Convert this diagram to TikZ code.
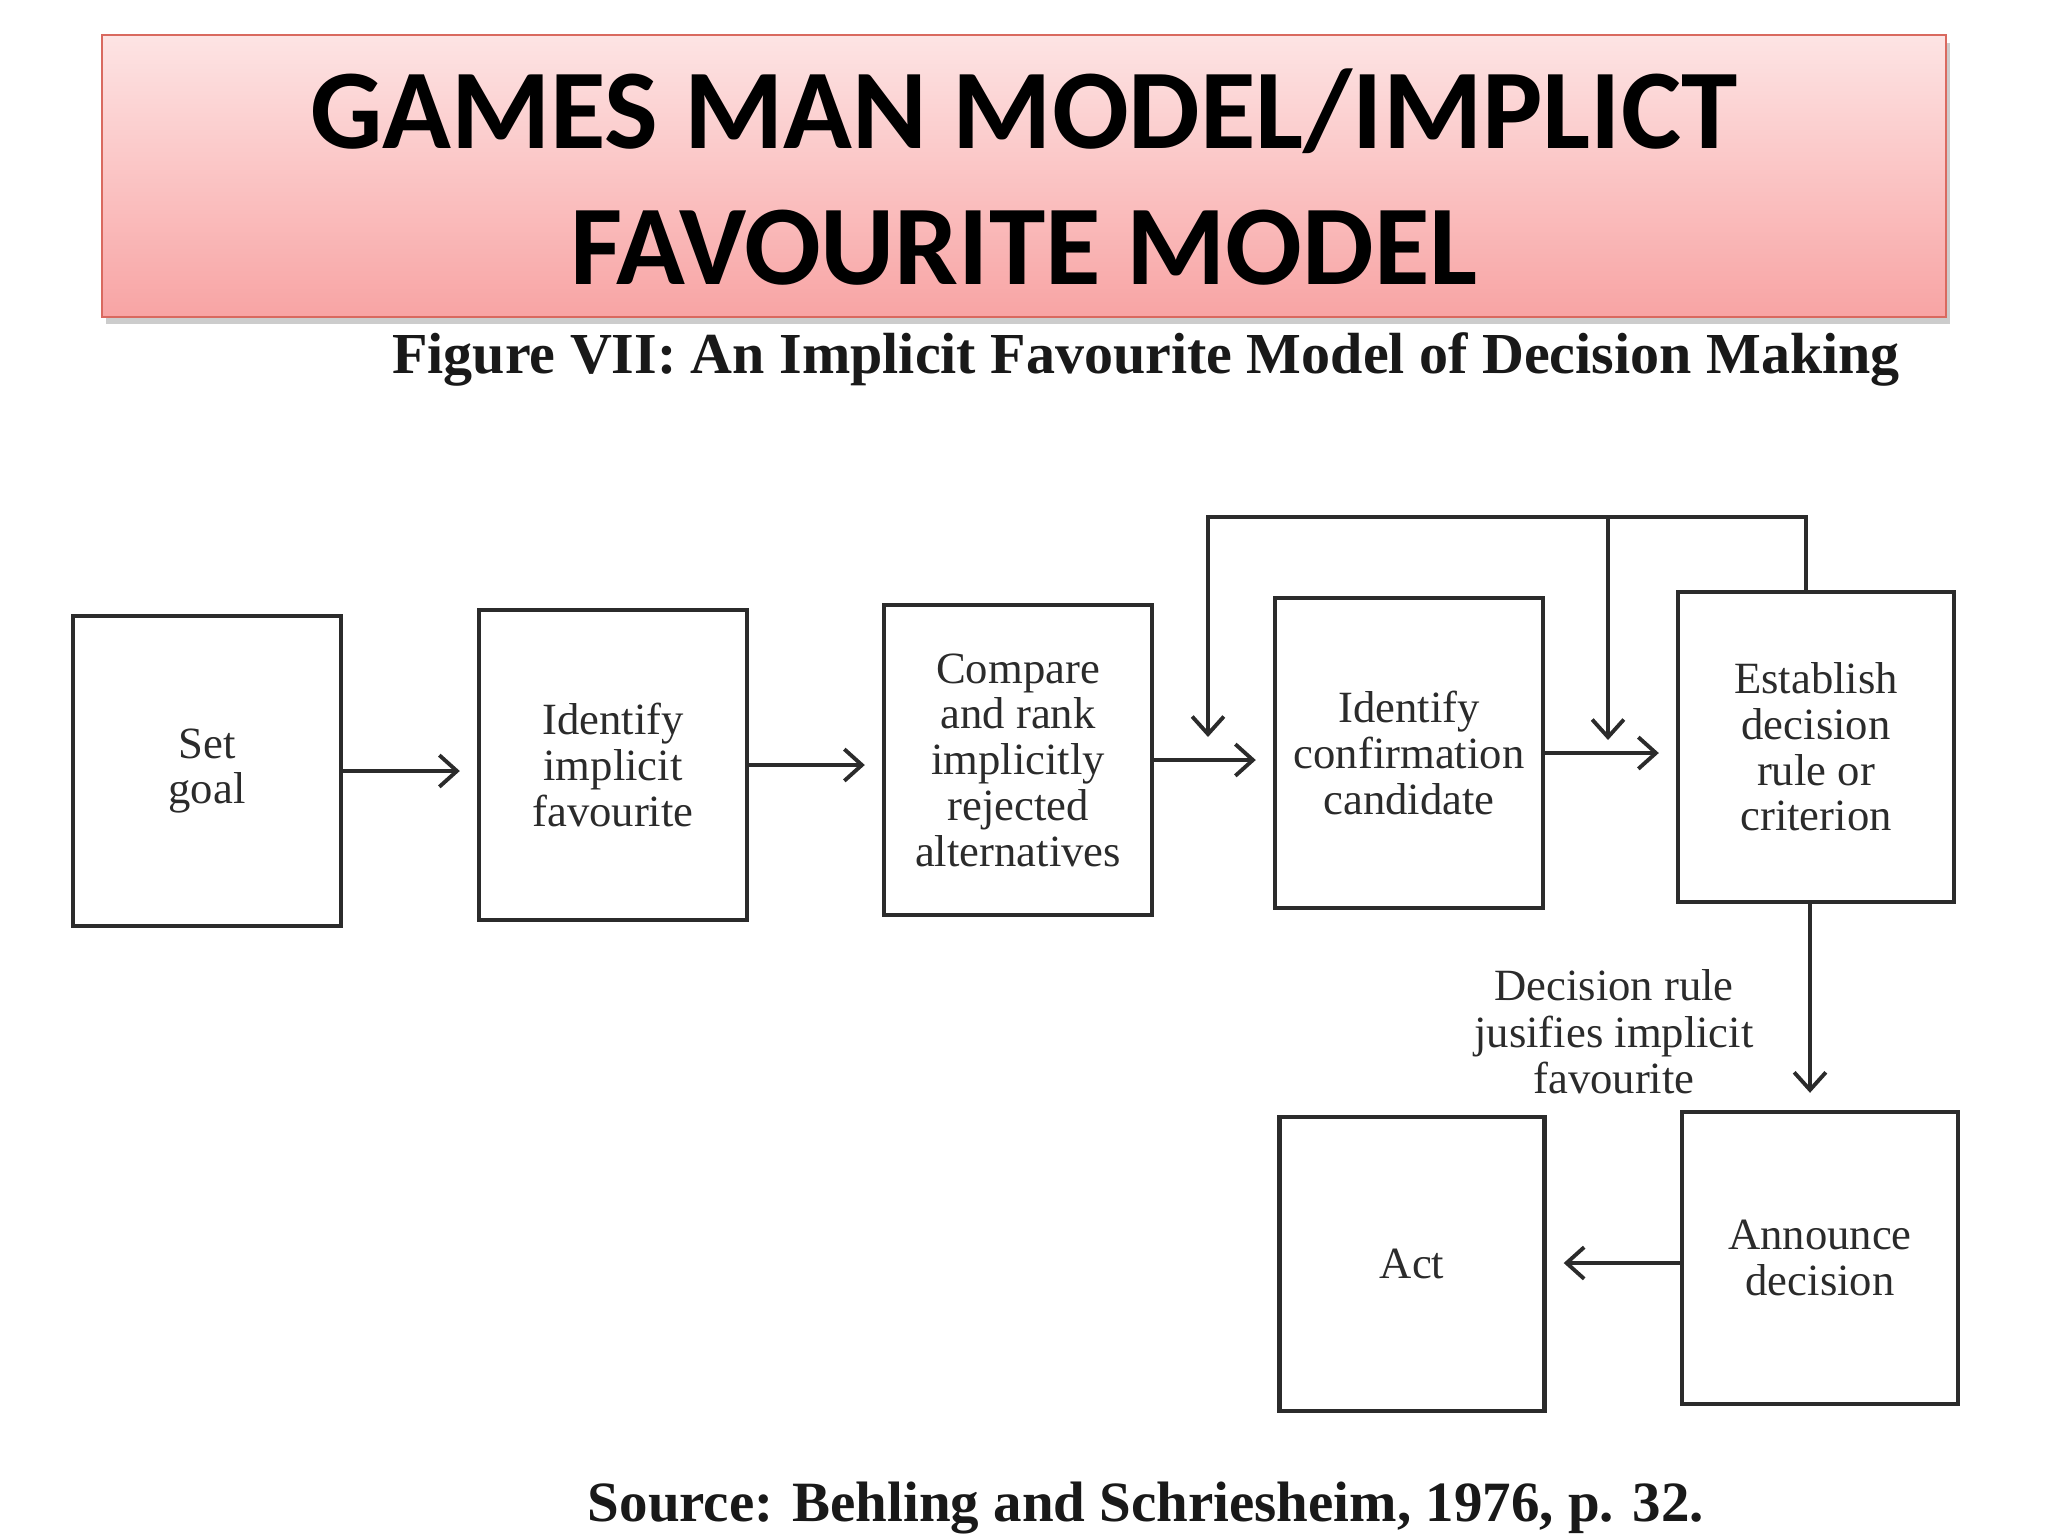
\documentclass[tikz,border=0pt]{standalone}
\usepackage{fontspec}
\setmainfont{Liberation Serif}
\newfontfamily\bannerfont{Carlito}
\usetikzlibrary{arrows.meta}

\definecolor{bannertop}{HTML}{FDE4E4}
\definecolor{bannerbot}{HTML}{F8A4A4}
\definecolor{banneredge}{HTML}{D9695F}
\definecolor{inkgray}{HTML}{2B2B2B}

\tikzset{
  stage/.style={draw=inkgray, line width=1.2pt, minimum width=2.68cm,
    minimum height=3.1cm, align=center, inner sep=0pt, text=inkgray,
    font=\fontsize{12.7}{13}\selectfont},
  flow/.style={->, line width=1.1pt, draw=inkgray, shorten >=0.17cm},
}

\begin{document}
\begin{tikzpicture}[x=0.01cm, y=-0.01cm, >={Straight Barb[length=5pt,width=9pt]}]
    \useasboundingbox (0,0) rectangle (2048,1536);

    % Title banner
    \fill[gray!40] (106,43) rectangle (1950,324);
    \shade[top color=bannertop, bottom color=bannerbot, draw=banneredge, line width=0.8pt]
        (102,35) rectangle (1946,317);
    \node (head1) at (1024,111) {\bannerfont\bfseries\fontsize{32.3}{32.3}\selectfont GAMES MAN MODEL/IMPLICT};
    \node (head2) at (1024,248) {\bannerfont\bfseries\fontsize{32.3}{32.3}\selectfont FAVOURITE MODEL};

    % Caption and source
    \node[text=black!90, font=\bfseries\fontsize{16.5}{16.5}\selectfont] (caption) at (1146,359)
        {Figure VII: An Implicit Favourite Model of Decision Making};
    \node[text=black!90, font=\bfseries\fontsize{16.2}{16.2}\selectfont] (source) at (1146,1508)
        {Source: Behling and Schriesheim, 1976, p. 32.};

    % Stages
    \node[stage] (goal) at (207,771) {Set\\goal};
    \node[stage] (fav) at (613,765) {Identify\\implicit\\favourite};
    \node[stage] (rank) at (1018,760) {Compare\\and rank\\implicitly\\rejected\\alternatives};
    \node[stage] (cand) at (1409,753) {Identify\\confirmation\\candidate};
    \node[stage, minimum width=2.76cm] (rule) at (1816,747) {Establish\\decision\\rule or\\criterion};
    \node[stage, minimum width=2.76cm, minimum height=2.92cm] (announce) at (1820,1258) {Announce\\decision};
    \node[stage, minimum width=2.65cm, minimum height=2.94cm] (act) at (1412,1264) {Act};

    % Justification note
    \node[text=inkgray, align=center, font=\fontsize{12.7}{13.2}\selectfont] (why) at (1614,1032)
        {Decision rule\\jusifies implicit\\favourite};

    % Main flow
    \draw[flow] (goal.east) -- (goal.east -| fav.west);
    \draw[flow] (fav.east) -- (fav.east -| rank.west);
    \draw[flow] (rank.east) -- (rank.east -| cand.west);
    \draw[flow] (cand.east) -- (cand.east -| rule.west);

    % Feedback loop
    \coordinate (loopR) at (1806,517);
    \coordinate (loopL) at (1208,517);
    \coordinate (loopM) at (1608,517);
    \coordinate (dropL) at (1208,737);
    \coordinate (dropM) at (1608,740);
    \draw[flow, shorten >=0pt] (rule.north -| loopR) -- (loopR) -- (loopL) -- (dropL);
    \draw[flow, shorten >=0pt] (loopM) -- (dropM);

    % Down to announcement and act
    \draw[flow] (rule.south -| 1810,0) -- (announce.north -| 1810,0);
    \draw[flow] (announce.west |- 0,1263) -- (act.east |- 0,1263);
\end{tikzpicture}
\end{document}
